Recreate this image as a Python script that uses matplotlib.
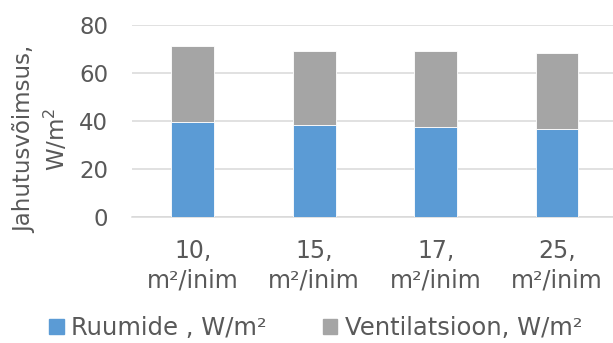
import numpy as np
import matplotlib
matplotlib.use('Agg')
import matplotlib.pyplot as plt
from matplotlib.patches import Patch

categories = ["10,\nm²/inim", "15,\nm²/inim", "17,\nm²/inim", "25,\nm²/inim"]
ruumide = [39.5, 38, 37.5, 36.5]
ventilatsioon = [31.5, 31, 31.5, 31.5]

BLUE = '#5B9BD5'
GRAY = '#A5A5A5'
TEXT = '#595959'
GRID = '#D9D9D9'
FS = 16.5

plt.rcParams['font.family'] = ['DejaVu Sans']

fig = plt.figure(figsize=(6.13, 3.43), dpi=100)
ax = fig.add_axes([0.2153, 0.3683, 0.7924, 0.5598])

x = np.arange(len(categories))
w = 0.354
ax.bar(x, ruumide, w, color=BLUE, edgecolor='white', linewidth=0.6, zorder=3)
ax.bar(x, ventilatsioon, w, bottom=ruumide, color=GRAY, edgecolor='white',
       linewidth=0.6, zorder=3)

ax.set_xlim(-0.5, len(categories) - 0.5)
ax.set_ylim(0, 80)
ax.set_yticks([0, 20, 40, 60, 80])
ax.set_xticks(x)
ax.set_xticklabels(categories, fontsize=FS + 0.5, color=TEXT, linespacing=1.3)
ax.tick_params(axis='y', labelsize=FS, labelcolor=TEXT, length=0, pad=17)
ax.tick_params(axis='x', length=0, pad=16)

ax.grid(axis='y', color=GRID, linewidth=1.1, zorder=0)
for side in ['top', 'right', 'left']:
    ax.spines[side].set_visible(False)
ax.spines['bottom'].set_color(GRID)
ax.spines['bottom'].set_linewidth(1.1)

fig.text(0.068, 0.595, "Jahutusvõimsus,\nW/m$^2$", rotation=90, ha='center',
         va='center', multialignment='center', fontsize=FS, color=TEXT,
         linespacing=1.3)

handles = [Patch(facecolor=BLUE, edgecolor=BLUE, label='Ruumide , W/m²'),
           Patch(facecolor=GRAY, edgecolor=GRAY, label='Ventilatsioon, W/m²')]
leg = fig.legend(handles=handles, loc='center', bbox_to_anchor=(0.515, 0.044),
                 ncol=2, frameon=False, fontsize=FS + 1, handlelength=0.6,
                 handleheight=0.6, handletextpad=0.3, columnspacing=2.3)
for t in leg.get_texts():
    t.set_color(TEXT)

fig.savefig('out.png', dpi=100)
